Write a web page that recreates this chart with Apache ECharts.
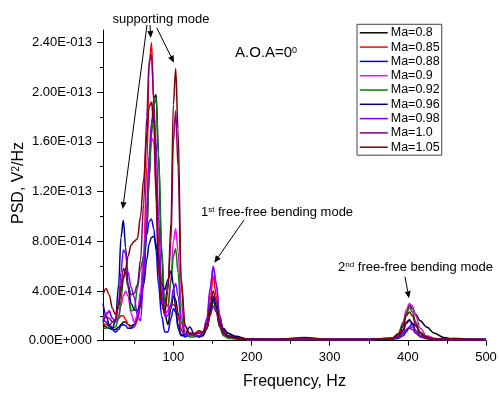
<!DOCTYPE html>
<html>
<head>
<meta charset="utf-8">
<script src="https://cdn.jsdelivr.net/npm/echarts@6/dist/echarts.min.js"></script>
<style>html,body{margin:0;padding:0;background:#fff;}#c{width:499px;height:394px;}</style>
</head>
<body>
<div id="c"></div>
<script>
// Frequencies (Hz)
const freq = [10,14,18,22,26,30,33,36,39,42,46,50,54,58,62,66,69,72,75,78,81,85,89,93,97,100,103,106,110,115,121,127,133,138,143,147,151,155,159,164,170,180,195,230,268,300,350,380,388,394,398,402,406,410,416,424,434,446,460,480,500];
// PSD values in units of 1E-014 V^2/Hz
const ma080 = [1.3,1.1,1.0,0.9,0.9,1.1,1.3,1.5,1.5,1.3,1.2,1.3,1.8,2.8,5,9,13,17,19.5,19.8,15,7,2.2,1.3,2.6,3.6,3.3,2.2,0.9,0.4,0.6,0.4,0.4,0.5,1.0,2.2,3.3,2.6,1.5,0.9,0.6,0.35,0.15,0.1,0.15,0.1,0.1,0.2,0.5,1.2,2.2,2.85,2.6,2.1,1.6,1.1,0.6,0.25,0.12,0.1,0.1];
const ma085 = [1.4,1.3,1.2,1.5,1.6,1.8,2.0,2.0,1.7,1.3,1.0,1.1,1.6,3.0,6.5,14,22,24.0,19,11,5.5,3,2.2,2.4,2.8,2.9,2.8,2.0,0.9,0.4,0.4,0.5,0.7,0.6,1.3,3.2,5.2,3.6,1.6,0.7,0.4,0.2,0.1,0.1,0.15,0.1,0.1,0.2,0.4,0.9,1.5,1.7,1.4,0.8,0.4,0.2,0.1,0.1,0.15,0.1,0.1];
const ma088 = [1.8,1.5,1.1,0.9,0.7,0.9,1.2,1.3,1.2,1.0,1.0,1.3,2.0,3.5,6,8.5,9.6,9.8,9.0,7.2,4.5,2.0,0.7,0.7,1.8,2.6,2.3,1.3,0.5,0.3,0.5,0.4,0.3,0.5,1.0,2.5,3.6,2.8,1.3,0.5,0.3,0.15,0.1,0.1,0.1,0.1,0.1,0.1,0.2,0.4,0.7,1.1,1.4,1.2,0.6,0.25,0.1,0.1,0.1,0.1,0.1];
const ma090 = [1.8,2.1,2.3,1.8,1.5,2.0,2.8,3.6,4.0,3.6,2.2,1.5,2.0,4.0,7,11,14.5,16.3,16.0,12.5,7.5,3.5,2.0,2.4,5.0,8.0,9.0,7.2,3.0,0.8,0.4,0.5,0.6,0.7,1.6,4.0,5.9,4.5,2.0,0.8,0.4,0.2,0.1,0.1,0.15,0.1,0.1,0.2,0.6,1.5,2.5,3.0,2.8,2.0,1.0,0.4,0.2,0.1,0.1,0.1,0.1];
const ma092 = [1.0,1.0,1.1,1.0,1.1,1.8,3.2,5.0,5.6,4.3,2.4,2.5,4.2,5.8,6.8,9,13,16.5,19.0,19.5,15,7.5,3.0,2.8,4.8,6.8,7.4,5.5,2.0,0.5,0.3,0.3,0.4,0.5,1.0,2.2,3.2,2.5,1.1,0.4,0.2,0.15,0.1,0.1,0.1,0.1,0.1,0.2,0.6,1.4,2.2,2.65,2.3,1.5,0.7,0.3,0.15,0.1,0.1,0.1,0.1];
const ma096 = [3.0,2.0,1.3,1.0,1.6,4.5,8.3,9.7,7.5,4.5,3.0,2.5,2.4,3.0,4.5,6.5,7.8,8.3,8.4,7.8,6.2,4.6,4.1,4.9,5.6,4.5,2.5,1.0,0.4,0.5,1.1,0.5,0.3,0.4,1.0,2.4,3.4,2.8,1.6,1.0,0.6,0.3,0.12,0.1,0.1,0.1,0.1,0.15,0.3,0.8,1.4,1.65,1.3,0.8,0.4,0.2,0.1,0.1,0.1,0.1,0.1];
const ma098 = [1.5,2.2,2.4,1.8,1.6,3.0,5.5,7.3,7.0,5.5,4.3,3.5,2.0,1.6,5,10,15,17.5,18.3,16,10,4.5,2.0,2.0,3.0,4.2,4.6,3.6,1.5,0.5,0.5,0.4,0.4,0.7,1.8,4.2,6.0,4.6,2.1,0.8,0.4,0.2,0.1,0.1,0.1,0.1,0.1,0.15,0.3,0.6,0.9,1.1,1.1,0.8,0.4,0.2,0.1,0.1,0.1,0.1,0.1];
const ma100 = [1.6,1.9,1.8,1.5,1.7,2.8,4.5,5.8,5.5,4.5,3.7,3.8,4.5,6.5,11,18,22.5,23.0,19.5,13,7,3.5,3.0,4.5,8,16,18.5,14,4.5,1.2,0.5,0.5,0.6,0.6,1.0,2.0,2.8,2.3,1.2,0.6,0.3,0.2,0.1,0.1,0.15,0.1,0.1,0.15,0.3,0.6,0.9,1.0,0.9,0.6,0.3,0.15,0.1,0.1,0.1,0.1,0.1];
const ma105 = [3.7,4.2,3.7,2.6,2.1,2.8,4.0,5.0,5.8,6.8,7.7,8.0,8.2,10,13,16.5,18.8,19.2,17.5,12,6.5,3.0,2.2,4,9.5,19,21.9,17,5,1.2,0.6,0.6,0.8,0.7,1.4,2.8,4.0,3.2,1.5,0.7,0.4,0.2,0.12,0.1,0.25,0.1,0.1,0.2,0.5,1.2,2.0,2.3,2.0,1.3,0.6,0.3,0.15,0.12,0.2,0.1,0.1];
const seriesNames = ['Ma=0.8','Ma=0.85','Ma=0.88','Ma=0.9','Ma=0.92','Ma=0.96','Ma=0.98','Ma=1.0','Ma=1.05'];
const seriesValues = [ma080,ma085,ma088,ma090,ma092,ma096,ma098,ma100,ma105];
const xMajorTicks = [100,200,300,400,500];
const xMinorTicks = [50,150,250,350,450];
const yMajorTicks = [0,4,8,12,16,20,24];
const yMinorTicks = [2,6,10,14,18,22];

const colors = ['#000000','#ff0000','#0000ff','#ff00ff','#008000','#000080','#8000ff','#800080','#800000'];
const FONT = '"Liberation Sans", Arial, sans-serif';

function sci(v){
  if (Math.abs(v) < 1e-9) return '0.00E+000';
  const val = v * 1e-14;
  const e = Math.floor(Math.log10(val) + 1e-9);
  const m = val / Math.pow(10, e);
  return m.toFixed(2) + 'E' + (e < 0 ? '-' : '+') + String(Math.abs(e)).padStart(3, '0');
}

function arrow(x1,y1,x2,y2){
  const dx=x2-x1, dy=y2-y1, L=Math.hypot(dx,dy), ux=dx/L, uy=dy/L;
  const hl=7, hw=3;
  const bx=x2-ux*hl, by=y2-uy*hl;
  return [
    {type:'line', z:100, shape:{x1:x1,y1:y1,x2:bx,y2:by}, style:{stroke:'#000', lineWidth:1}},
    {type:'polygon', z:100, shape:{points:[[x2,y2],[bx-uy*hw,by+ux*hw],[bx+uy*hw,by-ux*hw]]}, style:{fill:'#000'}}
  ];
}

const chart = echarts.init(document.getElementById('c'), null, {renderer:'canvas'});

const series = seriesNames.map((name,i)=>({
  name: name,
  type: 'line',
  xAxisIndex: 0,
  yAxisIndex: 0,
  data: freq.map((f,j)=>[f, seriesValues[i][j]]),
  smooth: 0.35,
  smoothMonotone: 'x',
  symbol: 'none',
  showSymbol: false,
  lineStyle: {color: colors[i], width: 1.5},
  itemStyle: {color: colors[i]},
  emphasis: {disabled: true},
  animation: false
}));

const graphics = [].concat(
  arrow(147,25,122.7,209),
  arrow(150,25,150.8,38),
  arrow(156.7,27.7,174,62.7),
  arrow(244,220,214.3,262.7),
  arrow(405,276.7,409,298.3),
  [
    {type:'text', z:100, x:161, y:19, style:{text:'supporting mode', font:'13px '+FONT, fill:'#000', align:'center', verticalAlign:'middle'}},
    {type:'text', z:100, x:277, y:212, style:{text:'1{sup|st} free-free bending mode', font:'13px '+FONT, fill:'#000', align:'center', verticalAlign:'middle', rich:{sup:{fontSize:8, fontFamily:FONT, verticalAlign:'top', fill:'#000'}}}},
    {type:'text', z:100, x:415.5, y:267.3, style:{text:'2{sup|nd} free-free bending mode', font:'13px '+FONT, fill:'#000', align:'center', verticalAlign:'middle', rich:{sup:{fontSize:8, fontFamily:FONT, verticalAlign:'top', fill:'#000'}}}},
    {type:'text', z:100, x:235, y:53.3, style:{text:'A.O.A=0{sup|0}', font:'15px '+FONT, fill:'#000', align:'left', verticalAlign:'middle', rich:{sup:{fontSize:9, fontFamily:FONT, verticalAlign:'top', fill:'#000'}}}},
    {type:'text', z:100, x:19, y:183, rotation: Math.PI/2, style:{text:'PSD, V{sup|2}/Hz', font:'16px '+FONT, fill:'#000', align:'center', verticalAlign:'middle', rich:{sup:{fontSize:10, fontFamily:FONT, verticalAlign:'top', fill:'#000'}}}}
  ]
);

const option = {
  backgroundColor: '#fff',
  animation: false,
  textStyle: {fontFamily: FONT},
  grid: {left:103, right:13, top:30, bottom:53.3, containLabel:false, outerBoundsMode:'none'},
  legend: {
    orient: 'vertical',
    left: 357, top: 24.3,
    itemWidth: 28, itemHeight: 14, itemGap: 1.3,
    padding: [2,2,1.5,2],
    borderColor: '#444', borderWidth: 1,
    backgroundColor: '#fff',
    itemStyle: {opacity: 0},
    lineStyle: {width: 1.5},
    textStyle: {fontSize: 12.5, color:'#000', fontFamily: FONT, padding:[0,0,0,-2]},
    data: seriesNames
  },
  xAxis: [
    {
      type:'value', min:10, max:500,
      name:'Frequency, Hz', nameLocation:'middle', nameGap:33,
      nameTextStyle:{fontSize:16, color:'#000', fontFamily:FONT},
      axisLine:{show:true, lineStyle:{color:'#000', width:1}},
      axisTick:{show:true, length:5, customValues:xMajorTicks, lineStyle:{color:'#000'}},
      axisLabel:{customValues:xMajorTicks, fontSize:13, color:'#000', margin:10, fontFamily:FONT},
      splitLine:{show:false}
    },
    {
      type:'value', min:10, max:500, position:'bottom',
      axisLine:{show:false},
      axisTick:{show:true, length:3, customValues:xMinorTicks, lineStyle:{color:'#000'}},
      axisLabel:{show:false},
      splitLine:{show:false}
    }
  ],
  yAxis: [
    {
      type:'value', min:0, max:25,
      axisLine:{show:true, lineStyle:{color:'#000', width:1}},
      axisTick:{show:true, length:6, customValues:yMajorTicks, lineStyle:{color:'#000'}},
      axisLabel:{customValues:yMajorTicks, fontSize:13, color:'#000', margin:11, fontFamily:FONT, formatter: sci},
      splitLine:{show:false}
    },
    {
      type:'value', min:0, max:25, position:'left',
      axisLine:{show:false},
      axisTick:{show:true, length:3, customValues:yMinorTicks, lineStyle:{color:'#000'}},
      axisLabel:{show:false},
      splitLine:{show:false}
    }
  ],
  series: series,
  graphic: graphics
};
chart.setOption(option);
</script>
</body>
</html>
